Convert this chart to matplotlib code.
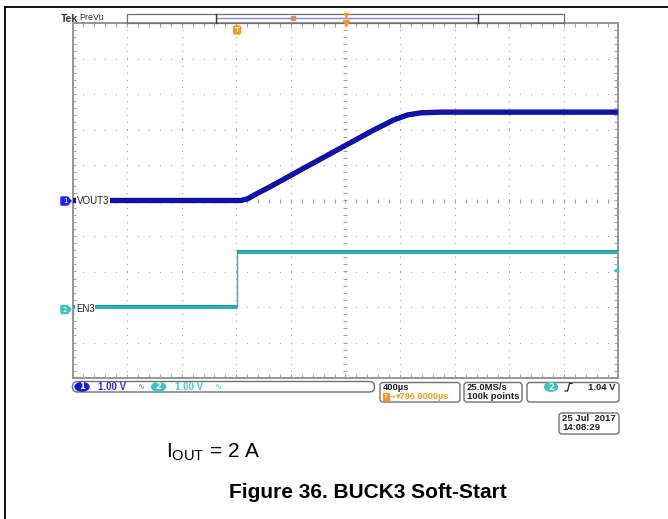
import matplotlib.pyplot as plt
import matplotlib.patheffects as pe
import numpy as np
from matplotlib.patches import FancyBboxPatch, Polygon, Rectangle, Ellipse

# scope settings
t_div = 400.0        # us/div
t_center = 796.0     # us, horizontal position after trigger
ch1_scale = 1.0      # V/div
ch2_scale = 1.0
ch1_offset = 0.0     # div, ground position of each channel
ch2_offset = -3.0
trig_level = 1.04    # V on ch2

# VOUT3 (ch1) soft-start ramp
vout_t = [-1204, 30, 80, 150, 250, 500, 795, 1000, 1150, 1250, 1350, 1500, 2796]
vout_v = [0.0, 0.0, 0.05, 0.20, 0.40, 0.93, 1.55, 1.98, 2.27, 2.41, 2.47, 2.49, 2.49]

# EN3 (ch2) enable step
en_t = [-1204, 0, 0, 2796]
en_v = [0.0, 0.0, 1.54, 1.54]

W, H = 668, 519
fig = plt.figure(figsize=(W / 100, H / 100), dpi=100)

# graticule box in pixels
gx0, gx1, gy0, gy1 = 72.5, 618.5, 23.0, 378.0
ax = fig.add_axes([gx0 / W, 1 - gy1 / H, (gx1 - gx0) / W, (gy1 - gy0) / H])
t0 = t_center - 5 * t_div
t1 = t_center + 5 * t_div
ax.set_xlim(t0, t1)
ax.set_ylim(-5, 5)
ax.axis('off')

grid_c = '#a0a0a0'
# dotted grid
xminor = np.arange(t0, t1 + 1, t_div / 5)
yminor = np.arange(-5, 5.01, 0.2)
for k in range(1, 10):
    xv = t0 + k * t_div
    ax.scatter(np.full(len(yminor), xv), yminor, s=0.8, color=grid_c, lw=0)
    yv = -5 + k
    ax.scatter(xminor, np.full(len(xminor), yv), s=0.8, color=grid_c, lw=0)

# center cross with minor ticks
tx = t_div * 2 / 54.6
ty = 2.0 / 35.5
ax.hlines(yminor, t_center - tx, t_center + tx, color=grid_c, lw=0.8)
ax.vlines(xminor, -ty, ty, color=grid_c, lw=0.8)
# border ticks
tl = 4.0
ax.vlines(xminor, -5, -5 + tl / 35.5, color=grid_c, lw=0.8)
ax.vlines(xminor, 5 - tl / 35.5, 5, color=grid_c, lw=0.8)
ax.hlines(yminor, t0, t0 + tl * t_div / 54.6, color=grid_c, lw=0.8)
ax.hlines(yminor, t1 - tl * t_div / 54.6, t1, color=grid_c, lw=0.8)
ax.add_patch(Rectangle((0, 0), 1, 1, transform=ax.transAxes, fill=False,
                       edgecolor='#8c8c8c', lw=1.3, clip_on=False))

# traces
en_y = np.array(en_v) / ch2_scale + ch2_offset
ax.plot(en_t, en_y, color='#2ab3b3', lw=1.0)
ax.plot(en_t[:2], en_y[:2], color='#2ab3b3', lw=2.2, solid_capstyle='butt',
        path_effects=[pe.Stroke(linewidth=2.8, foreground='#1d8f8f'), pe.Normal()])
ax.plot(en_t[2:], en_y[2:], color='#2ab3b3', lw=2.2, solid_capstyle='butt',
        path_effects=[pe.Stroke(linewidth=2.8, foreground='#1d8f8f'), pe.Normal()])

vout_y = np.array(vout_v) / ch1_scale + ch1_offset
ax.plot(vout_t, vout_y, color='#1212b4', lw=3.0, solid_joinstyle='round',
        path_effects=[pe.Stroke(linewidth=3.8, foreground='#0a0a6a'), pe.Normal()])

# trigger level marker on right edge
ax.plot([t1 - 15], [ch2_offset + trig_level / ch2_scale], marker='<', ms=3,
        color='#30c8c8', clip_on=False)

# overlay for scope annotations and caption
ov = fig.add_axes([0, 0, 1, 1], zorder=5)
ov.set_xlim(0, W)
ov.set_ylim(H, 0)
ov.axis('off')
ov.patch.set_alpha(0)

sans = ['Liberation Sans', 'DejaVu Sans']
narrow = ['Liberation Sans Narrow', 'Liberation Sans', 'DejaVu Sans']
orange = '#f39a1e'
blue = '#1e1eff'
cyan = '#3cc4c4'
dark = '#202020'

# page border
ov.plot([5, W], [7, 7], color='black', lw=1.3)
ov.plot([5, 5], [7, H], color='black', lw=1.3)

# header: Tek PreVu and record view bar
ov.text(61, 18.5, 'Tek', fontsize=7.5, fontweight='bold', color='#303030',
        va='center', family=sans)
ov.text(79, 18, 'PreVu', fontsize=6.5, color='#303030', va='center', family=sans)
ov.add_patch(Rectangle((127, 14), 437, 8.5, fill=False, edgecolor='#707070', lw=0.9))
ov.plot([216, 478], [17.5, 17.5], color='#8888ff', lw=1.0)
ov.plot([216, 216], [14, 22.5], color='#303030', lw=1.0)
ov.plot([478, 478], [14, 22.5], color='#303030', lw=1.0)
ov.add_patch(Rectangle((291, 16), 3.5, 4, color=orange))
ov.plot([345.5], [14.5], marker='v', ms=3, color=orange)
ov.plot([345.5], [23], marker='v', ms=5, color=orange)
ov.add_patch(FancyBboxPatch((233.5, 26), 7, 8, boxstyle='round,pad=0,rounding_size=1.5',
                            color=orange))
ov.text(237, 30, 'T', fontsize=5, color='white', ha='center', va='center',
        fontweight='bold')

# channel ground markers and labels
for yy, col, num, lab, lx in [(201, blue, '1', 'VOUT3', 77), (309.5, cyan, '2', 'EN3', 76)]:
    ov.add_patch(Polygon([(61, yy - 4), (67.5, yy - 4), (71, yy), (67.5, yy + 4),
                          (61, yy + 4)], closed=True, color=col))
    ov.text(65, yy, num, fontsize=5, color='white', ha='center', va='center')
    ov.text(lx, yy, lab, fontsize=7, color='#202020', ha='left', va='center',
            family=narrow, bbox=dict(facecolor='white', edgecolor='none', pad=0.5))

# channel status bar
ov.add_patch(FancyBboxPatch((72.5, 381.5), 302, 10.5,
                            boxstyle='round,pad=0,rounding_size=5',
                            fill=False, edgecolor='#707070', lw=1.0))
ov.add_patch(Ellipse((82, 386.8), 14, 8.5, color='#1818d8'))
ov.text(82, 386.8, '1', fontsize=6, color='white', ha='center', va='center',
        fontweight='bold')
ov.text(98, 387, '1.00 V', fontsize=7, color='#2a2ae0', va='center',
        fontweight='bold', family=sans)
ov.text(141, 387, '∿', fontsize=6, color='#5a5af0', ha='center', va='center')
ov.add_patch(Ellipse((158.5, 386.8), 14, 8.5, color=cyan))
ov.text(158.5, 386.8, '2', fontsize=6, color='white', ha='center', va='center',
        fontweight='bold')
ov.text(175, 387, '1.00 V', fontsize=7, color='#48c8c8', va='center',
        fontweight='bold', family=sans)
ov.text(218, 387, '∿', fontsize=6, color='#48c8c8', ha='center', va='center')

# horizontal / acquisition / trigger boxes
for bx, bw in [(380, 80), (464, 58), (527, 92)]:
    ov.add_patch(FancyBboxPatch((bx, 382.5), bw, 19.5,
                                boxstyle='round,pad=0,rounding_size=3',
                                fill=False, edgecolor='#707070', lw=1.0))
ov.text(383, 387.5, '400µs', fontsize=6.8, color=dark, va='center',
        fontweight='bold', family=sans)
ov.add_patch(Rectangle((383, 393), 5.5, 6.5, color=orange))
ov.text(385.7, 396.3, 'T', fontsize=4.5, color='white', ha='center', va='center')
ov.text(389, 396.5, '→', fontsize=5.5, color=orange, va='center', family='DejaVu Sans')
ov.text(396, 396.5, '▾796.0000µs', fontsize=6.6, color=orange, va='center',
        fontweight='bold', family=sans)
ov.text(467, 387.5, '25.0MS/s', fontsize=6.8, color=dark, va='center',
        fontweight='bold', family=sans)
ov.text(467, 396.5, '100k points', fontsize=6.8, color=dark, va='center',
        fontweight='bold', family=sans)
ov.add_patch(Ellipse((551, 387), 13, 8.5, color=cyan))
ov.text(551, 387, '2', fontsize=6, color='white', ha='center', va='center',
        fontweight='bold')
ov.plot([565, 567.5, 569.5, 572], [391, 391, 383.5, 383.5], color=dark, lw=0.9)
ov.text(615, 387.5, '1.04 V', fontsize=6.8, color=dark, ha='right',
        va='center', fontweight='bold', family=sans)

# date box
ov.add_patch(FancyBboxPatch((559, 413), 60, 21, boxstyle='round,pad=0,rounding_size=3',
                            fill=False, edgecolor='#707070', lw=1.0))
ov.text(562, 418.5, '25 Jul  2017', fontsize=6.8, color=dark, va='center',
        fontweight='bold', family=sans)
ov.text(562, 428, '14:08:29', fontsize=6.8, color=dark, va='center',
        fontweight='bold', family=sans)

# caption
ov.text(166, 452, r'$\mathregular{I_{OUT}}$ = 2 A', fontsize=15, color='black',
        va='center', ha='left', family='Liberation Sans')
ov.text(368, 493, 'Figure 36. BUCK3 Soft-Start', fontsize=15, fontweight='bold',
        color='black', ha='center', va='center', family='Liberation Sans')

fig.savefig('out.png', dpi=100)
